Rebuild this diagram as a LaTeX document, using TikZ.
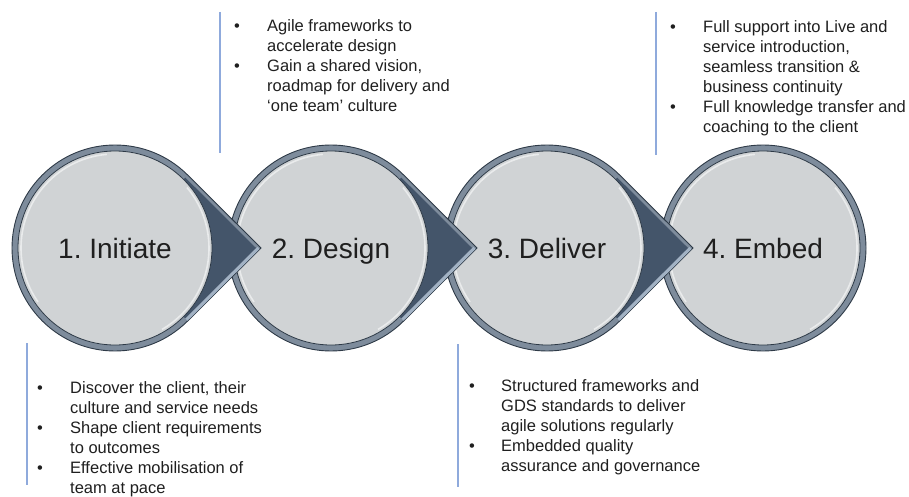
\documentclass[tikz,border=0pt]{standalone}
\usepackage{fontspec}
\setmainfont{Liberation Sans}
\usepackage{array}
\frenchspacing

\definecolor{rimgray}{HTML}{7E8C9C}
\definecolor{rimdark}{HTML}{2E3A47}
\definecolor{slate}{HTML}{44556A}
\definecolor{bevelgray}{HTML}{A2B2C4}
\definecolor{discgray}{HTML}{D0D3D5}
\definecolor{ruleblue}{HTML}{8FAADC}
\definecolor{textgray}{HTML}{1F1F1F}

\begin{document}
\begin{tikzpicture}[x=1pt,y=1pt,
    rim/.style={fill=rimgray,draw=rimdark,line width=.9pt},
    point/.style={fill=slate},
    bevel/.style={draw=bevelgray,line width=3pt},
    stage/.style={circle,draw=rimdark,line width=.8pt,fill=discgray,
      minimum size=194pt,inner sep=0pt,text=textgray,text depth=0pt,
      font=\fontsize{28}{34}\selectfont},
    gloss/.style={draw=white,line width=1.6pt,opacity=.55},
    rule/.style={draw=ruleblue,line width=1.2pt}]

  \useasboundingbox (0,0) rectangle (909,496);

  % centres, outer tips and inner tips
  \coordinate (c1) at (115,248);
  \coordinate (c2) at (331,248);
  \coordinate (c3) at (547,248);
  \coordinate (c4) at (763,248);
  \coordinate (t1) at (261,248);
  \coordinate (t2) at (477,248);
  \coordinate (t3) at (693,248);
  \coordinate (u1) at (256,248);
  \coordinate (u2) at (472,248);
  \coordinate (u3) at (688,248);

  % 4. Embed
  \draw[rim] (c4) circle[radius=103];
  \node[stage] (4) at (c4) {4. Embed};
  \draw[gloss] (c4) ++(95:94) arc[start angle=95,end angle=215,radius=94];
  \draw[gloss] (c4) ++(-60:94) arc[start angle=-60,end angle=40,radius=94];

  % 3. Deliver
  \draw[rim] (c3) ++(45.1:103) arc[start angle=45.1,end angle=314.9,radius=103] -- (t3) -- cycle;
  \fill[point] (c3) -- ([shift={(45.1:99.5)}]c3) -- (u3) -- ([shift={(-45.1:99.5)}]c3) -- cycle;
  \draw[bevel] ([shift={(-45.1:101.2)}]c3) -- ([xshift=143.5pt]c3);
  \node[stage] (3) at (c3) {3. Deliver};
  \draw[gloss] (c3) ++(95:94) arc[start angle=95,end angle=215,radius=94];
  \draw[gloss] (c3) ++(-60:94) arc[start angle=-60,end angle=40,radius=94];

  % 2. Design
  \draw[rim] (c2) ++(45.1:103) arc[start angle=45.1,end angle=314.9,radius=103] -- (t2) -- cycle;
  \fill[point] (c2) -- ([shift={(45.1:99.5)}]c2) -- (u2) -- ([shift={(-45.1:99.5)}]c2) -- cycle;
  \draw[bevel] ([shift={(-45.1:101.2)}]c2) -- ([xshift=143.5pt]c2);
  \node[stage] (2) at (c2) {2. Design};
  \draw[gloss] (c2) ++(95:94) arc[start angle=95,end angle=215,radius=94];
  \draw[gloss] (c2) ++(-60:94) arc[start angle=-60,end angle=40,radius=94];

  % 1. Initiate
  \draw[rim] (c1) ++(45.1:103) arc[start angle=45.1,end angle=314.9,radius=103] -- (t1) -- cycle;
  \fill[point] (c1) -- ([shift={(45.1:99.5)}]c1) -- (u1) -- ([shift={(-45.1:99.5)}]c1) -- cycle;
  \draw[bevel] ([shift={(-45.1:101.2)}]c1) -- ([xshift=143.5pt]c1);
  \node[stage] (1) at (c1) {1. Initiate};
  \draw[gloss] (c1) ++(95:94) arc[start angle=95,end angle=215,radius=94];
  \draw[gloss] (c1) ++(-60:94) arc[start angle=-60,end angle=40,radius=94];

  % side rules
  \coordinate (r1a) at (27,153);
  \coordinate (r1b) at (27,11);
  \coordinate (r2a) at (220,484);
  \coordinate (r2b) at (220,343);
  \coordinate (r3a) at (458,152);
  \coordinate (r3b) at (458,9);
  \coordinate (r4a) at (656,484);
  \coordinate (r4b) at (656,341);
  \draw[rule] (r1a) -- (r1b);
  \draw[rule] (r2a) -- (r2b);
  \draw[rule] (r3a) -- (r3b);
  \draw[rule] (r4a) -- (r4b);

  \begin{scope}[every node/.style={anchor=north west,inner sep=0pt,text=textgray,
      font=\fontsize{16.5}{20}\selectfont}]
    \node (n1) at (37,117) {\begin{tabular}{@{}p{33pt}@{}l@{}}
        •&Discover the client, their\\
        &culture and service needs\\
        •&Shape client requirements\\
        &to outcomes\\
        •&Effective mobilisation of\\
        &team at pace
      \end{tabular}};
    \node (n2) at (234,479) {\begin{tabular}{@{}p{33pt}@{}l@{}}
        •&Agile frameworks to\\
        &accelerate design\\
        •&Gain a shared vision,\\
        &roadmap for delivery and\\
        &‘one team’ culture
      \end{tabular}};
    \node (n3) at (469,119) {\begin{tabular}{@{}p{32pt}@{}l@{}}
        •&Structured frameworks and\\
        &GDS standards to deliver\\
        &agile solutions regularly\\
        •&Embedded quality\\
        &assurance and governance
      \end{tabular}};
    \node (n4) at (670,478) {\begin{tabular}{@{}p{33pt}@{}l@{}}
        •&Full support into Live and\\
        &service introduction,\\
        &seamless transition \&\\
        &business continuity\\
        •&Full knowledge transfer and\\
        &coaching to the client
      \end{tabular}};
  \end{scope}

\end{tikzpicture}
\end{document}
